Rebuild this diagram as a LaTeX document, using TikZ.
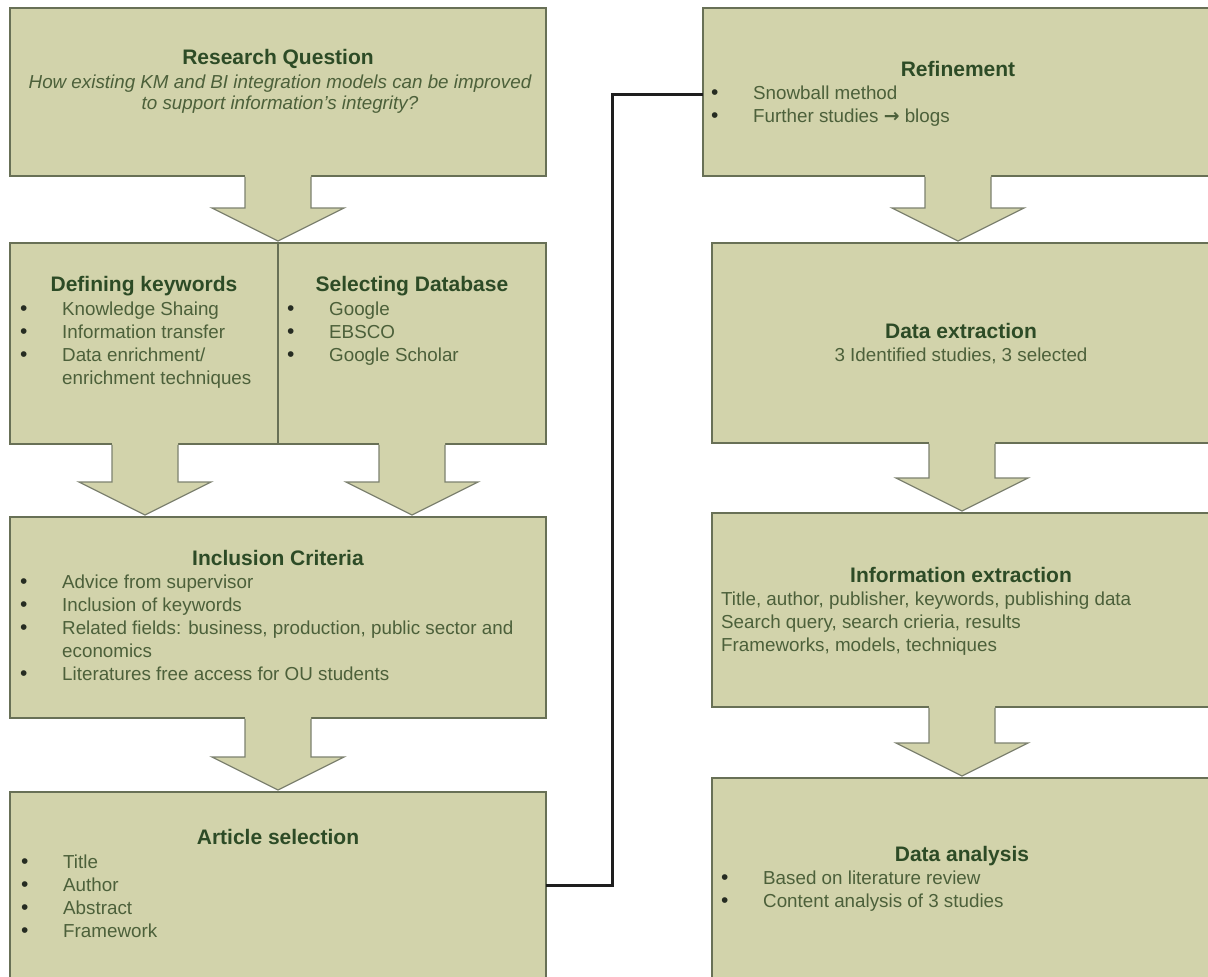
\documentclass[tikz,border=0pt]{standalone}
\usepackage{fontspec}
\setmainfont{Liberation Sans}
\newfontfamily\arrowfont{DejaVu Sans}
\usetikzlibrary{calc}

\definecolor{boxfill}{RGB}{210,211,171}
\definecolor{boxline}{RGB}{104,112,86}
\definecolor{arrline}{RGB}{125,130,112}
\definecolor{titlecol}{RGB}{45,75,38}
\definecolor{bodycol}{RGB}{76,96,58}
\definecolor{dotcol}{RGB}{38,44,34}
\definecolor{conncol}{RGB}{30,30,30}

% bullet mark and bullet list: bullet column followed by the item text
\newcommand{\bmark}{\makebox[42pt][l]{\color{dotcol}\fontsize{21}{23}\selectfont\textbullet}}
\newcommand{\itemlist}[1]{%
  \begin{tabular}[t]{@{}l@{}l@{}}#1\end{tabular}}
\newcommand{\plainlines}[1]{%
  \begin{tabular}[t]{@{}l@{}}#1\end{tabular}}
\newcommand{\toarrow}{{\arrowfont\bfseries →}}

% block arrow from the bottom of #1 to the top of #2, centred at x = #3
\newcommand{\blockarrow}[3]{%
  \fill[boxfill] let \p1=(#1.south), \p2=(#2.north) in
    (#3pt-33pt,\y1+1.5pt) -- (#3pt-33pt,\y2+35pt) -- (#3pt-66pt,\y2+35pt)
    -- (#3pt,\y2+2pt) -- (#3pt+66pt,\y2+35pt) -- (#3pt+33pt,\y2+35pt)
    -- (#3pt+33pt,\y1+1.5pt) -- cycle;
  \draw[arrowedge] let \p1=(#1.south), \p2=(#2.north) in
    (#3pt-33pt,\y1-0.8pt) -- (#3pt-33pt,\y2+35pt) -- (#3pt-66pt,\y2+35pt)
    -- (#3pt,\y2+2pt) -- (#3pt+66pt,\y2+35pt) -- (#3pt+33pt,\y2+35pt)
    -- (#3pt+33pt,\y1-0.8pt);
}

\begin{document}
\begin{tikzpicture}[x=1pt,y=-1pt,
  box/.style={draw=boxline, fill=boxfill, line width=1.6pt,
    inner sep=0pt, outer sep=0pt},
  arrowedge/.style={draw=arrline, line width=1.3pt, line join=miter},
  title/.style={font=\fontsize{21}{24}\selectfont\bfseries, text=titlecol,
    anchor=base, inner sep=0pt},
  body/.style={font=\fontsize{18.8}{23}\selectfont, text=bodycol,
    anchor=base west, inner sep=0pt},
  question/.style={font=\fontsize{18.8}{21}\selectfont\itshape, text=bodycol,
    anchor=base, inner sep=0pt},
  conn/.style={draw=conncol, line width=3pt}]

\useasboundingbox (0,0) rectangle (1208,977);
\clip (0,0) rectangle (1208,977);
\fill[white] (0,0) rectangle (1208,977);

% ---- left column ----
\node[box, minimum width=536pt, minimum height=168pt] (rq)  at (278,92) {};
\node[box, minimum width=268pt, minimum height=201pt] (kwd) at (144,343.5) {};
\node[box, minimum width=268pt, minimum height=201pt] (db)  at (412,343.5) {};
\node[box, minimum width=536pt, minimum height=201pt] (inc) at (278,617.5) {};
\node[box, minimum width=536pt, minimum height=186pt] (art) at (278,885) {};

% ---- right column ----
\node[box, minimum width=509pt, minimum height=168pt] (ref) at (957.5,92) {};
\node[box, minimum width=500pt, minimum height=200pt] (dex) at (962,343) {};
\node[box, minimum width=500pt, minimum height=194pt] (iex) at (962,610) {};
\node[box, minimum width=500pt, minimum height=204pt] (dan) at (962,880) {};

% ---- block arrows ----
\blockarrow{rq}{kwd}{278}
\blockarrow{kwd}{inc}{145}
\blockarrow{db}{inc}{412}
\blockarrow{inc}{art}{278}
\blockarrow{ref}{dex}{958}
\blockarrow{dex}{iex}{962}
\blockarrow{iex}{dan}{962}

% ---- link from article selection back up to refinement ----
\draw[conn] (art.east) -- ++(66,0) coordinate (bend) |- ($(ref.west)+(0,2)$);

% ---- texts ----
\node[title] (rqT) at (278,64) {Research Question};
\node[question] (rqQ) at (280,88) {\begin{tabular}[t]{@{}c@{}}
  How existing KM and BI integration models can be improved\\
  to support information’s integrity?\end{tabular}};

\node[title] (kwdT) at (144,291) {Defining keywords};
\node[body] (kwdL) at (20,315) {\itemlist{
  \bmark & Knowledge Shaing\\
  \bmark & Information transfer\\
  \bmark & Data enrichment/\\
         & enrichment techniques}};

\node[title] (dbT) at (412,291) {Selecting Database};
\node[body] (dbL) at (287,315) {\itemlist{
  \bmark & Google\\
  \bmark & EBSCO\\
  \bmark & Google Scholar}};

\node[title] (incT) at (278,565) {Inclusion Criteria};
\node[body] (incL) at (20,588) {\itemlist{
  \bmark & Advice from supervisor\\
  \bmark & Inclusion of keywords\\
  \bmark & Related fields: business, production, public sector and\\
         & economics\\
  \bmark & Literatures free access for OU students}};

\node[title] (artT) at (278,844) {Article selection};
\node[body] (artL) at (21,868) {\itemlist{
  \bmark & Title\\
  \bmark & Author\\
  \bmark & Abstract\\
  \bmark & Framework}};

\node[title] (refT) at (958,76) {Refinement};
\node[body] (refL) at (711,99) {\itemlist{
  \bmark & Snowball method\\
  \bmark & Further studies \toarrow{} blogs}};

\node[title] (dexT) at (961,338) {Data extraction};
\node[body, anchor=base] (dexS) at (961,361) {3 Identified studies, 3 selected};

\node[title] (iexT) at (961,582) {Information extraction};
\node[body] (iexL) at (721,605) {\plainlines{
  Title, author, publisher, keywords, publishing data\\
  Search query, search crieria, results\\
  Frameworks, models, techniques}};

\node[title] (danT) at (962,861) {Data analysis};
\node[body] (danL) at (721,884) {\itemlist{
  \bmark & Based on literature review\\
  \bmark & Content analysis of 3 studies}};
\end{tikzpicture}
\end{document}
